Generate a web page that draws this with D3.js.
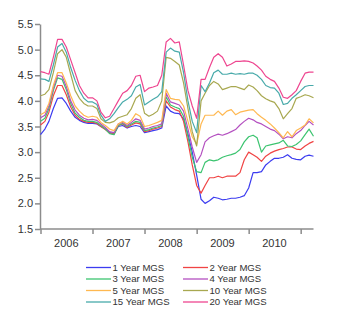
<!DOCTYPE html>
<html>
<head>
<meta charset="utf-8">
<script src="https://cdn.jsdelivr.net/npm/d3@7"></script>
<style>
  body { margin: 0; background: #fff; }
  svg { display: block; font-family: "Liberation Sans", Arial, sans-serif; }
  .axis path, .axis line { stroke: #8c8c8c; stroke-width: 1.5; }
  .axis text { fill: #333; font-size: 11px; }
  .legend text { fill: #333; font-size: 9.6px; }
</style>
</head>
<body>
<svg id="chart" width="344" height="330"></svg>
<script>
// Monthly yields, Jan 2006 .. Apr 2011 (64 months)
const startMonth = new Date(2006, 0, 1);
const endMonth = new Date(2011, 3, 1);

const seriesNames = ["1 Year MGS", "2 Year MGS", "3 Year MGS", "4 Year MGS",
                     "5 Year MGS", "10 Year MGS", "15 Year MGS", "20 Year MGS"];
const seriesColors = ["#3c3cf0", "#f04444", "#3cc470", "#b450c0",
                      "#ffb850", "#a8a850", "#48aaaa", "#ee4690"];

const y1 = [3.34, 3.45, 3.6, 3.85, 4.05, 4.06, 3.95, 3.8, 3.68, 3.62, 3.58, 3.56, 3.56, 3.55, 3.5, 3.45,
            3.38, 3.36, 3.5, 3.52, 3.47, 3.5, 3.52, 3.5, 3.38, 3.4, 3.42, 3.44, 3.47, 3.9, 3.8, 3.76,
            3.75, 3.65, 3.35, 3.0, 2.55, 2.08, 2.0, 2.05, 2.12, 2.1, 2.07, 2.08, 2.1, 2.1, 2.12, 2.15,
            2.3, 2.6, 2.6, 2.62, 2.75, 2.82, 2.88, 2.88, 2.9, 2.95, 2.88, 2.86, 2.85, 2.92, 2.94, 2.92];
const y2 = [3.53, 3.6, 3.78, 4.1, 4.3, 4.3, 4.12, 3.88, 3.72, 3.64, 3.6, 3.58, 3.58, 3.56, 3.5, 3.44,
            3.37, 3.35, 3.52, 3.55, 3.48, 3.53, 3.57, 3.55, 3.4, 3.42, 3.45, 3.47, 3.5, 4.0, 3.88, 3.83,
            3.8, 3.6, 3.2, 2.75, 2.35, 2.2, 2.35, 2.5, 2.5, 2.53, 2.5, 2.53, 2.53, 2.53, 2.6, 2.85,
            3.0, 2.95, 2.9, 2.82, 2.92, 2.98, 3.02, 3.05, 3.07, 3.1, 3.1, 3.06, 3.05, 3.12, 3.17, 3.21];
const y3 = [3.6, 3.66, 3.85, 4.2, 4.45, 4.42, 4.22, 3.95, 3.76, 3.68, 3.62, 3.6, 3.6, 3.58, 3.52, 3.45,
            3.36, 3.34, 3.52, 3.56, 3.5, 3.55, 3.6, 3.58, 3.42, 3.44, 3.47, 3.49, 3.52, 4.08, 3.92, 3.88,
            3.85, 3.7, 3.3, 2.9, 2.62, 2.6, 2.8, 2.85, 2.83, 2.85, 2.9, 2.93, 2.95, 2.98, 3.05, 3.2,
            3.3, 3.33, 3.28, 3.0, 3.12, 3.14, 3.16, 3.18, 3.23, 3.12, 3.11, 3.15, 3.22, 3.34, 3.45, 3.31];
const y4 = [3.67, 3.72, 3.9, 4.25, 4.5, 4.48, 4.28, 4.0, 3.82, 3.72, 3.66, 3.63, 3.64, 3.62, 3.55, 3.48,
            3.4, 3.38, 3.55, 3.58, 3.52, 3.58, 3.65, 3.62, 3.45, 3.47, 3.5, 3.52, 3.55, 4.15, 3.98, 3.95,
            3.92, 3.8, 3.45, 3.1, 2.8, 2.95, 3.2, 3.28, 3.32, 3.35, 3.33, 3.36, 3.4, 3.44, 3.53, 3.6,
            3.66, 3.63, 3.58, 3.55, 3.5, 3.45, 3.42, 3.35, 3.26, 3.3, 3.28, 3.36, 3.42, 3.52, 3.6, 3.53];
const y5 = [3.73, 3.78, 3.95, 4.3, 4.55, 4.55, 4.35, 4.1, 3.9, 3.8, 3.72, 3.68, 3.7, 3.68, 3.58, 3.52,
            3.45, 3.42, 3.55, 3.6, 3.55, 3.62, 3.75, 3.7, 3.5, 3.52, 3.55, 3.58, 3.62, 4.22, 4.05, 4.03,
            4.02, 3.9, 3.6, 3.3, 3.15, 3.55, 3.72, 3.72, 3.72, 3.8, 3.72, 3.8, 3.83, 3.73, 3.78, 3.8,
            3.82, 3.83, 3.75, 3.68, 3.62, 3.55, 3.47, 3.38, 3.28, 3.4, 3.3, 3.42, 3.47, 3.53, 3.65, 3.57];
const y10 = [4.1, 4.13, 4.22, 4.55, 4.92, 5.0, 4.85, 4.52, 4.2, 4.05, 3.95, 3.9, 3.9, 3.85, 3.65, 3.58,
             3.57, 3.6, 3.67, 3.7, 3.73, 3.85, 4.05, 4.12, 3.76, 3.7, 3.74, 3.8, 4.0, 4.85, 4.83, 4.77,
             4.7, 4.35, 3.85, 3.4, 3.12, 4.0, 4.15, 4.3, 4.38, 4.33, 4.22, 4.25, 4.28, 4.28, 4.25, 4.22,
             4.31, 4.27, 4.2, 4.1, 4.04, 4.0, 3.97, 3.85, 3.65, 3.75, 3.85, 4.05, 4.08, 4.12, 4.1, 4.06];
const y15 = [4.43, 4.42, 4.38, 4.7, 5.05, 5.12, 4.95, 4.65, 4.4, 4.2, 4.05, 3.98, 3.98, 3.93, 3.72, 3.6,
             3.65, 3.75, 3.87, 3.98, 4.03, 4.1, 4.27, 4.32, 3.92, 3.98, 4.03, 4.08, 4.18, 4.95, 5.03, 4.97,
             4.95, 4.55, 4.0, 3.6, 3.38, 4.3, 4.18, 4.35, 4.55, 4.6, 4.52, 4.52, 4.54, 4.52, 4.53, 4.52,
             4.54, 4.54, 4.5, 4.42, 4.3, 4.26, 4.25, 4.15, 3.93, 3.95, 4.05, 4.12, 4.2, 4.28, 4.3, 4.3];
const y20 = [4.57, 4.55, 4.52, 4.85, 5.2, 5.2, 5.05, 4.8, 4.55, 4.3, 4.15, 4.06, 4.06, 4.0, 3.78, 3.67,
             3.7, 3.85, 4.0, 4.15, 4.2, 4.3, 4.48, 4.5, 4.18, 4.25, 4.27, 4.3, 4.5, 5.15, 5.22, 5.13,
             5.15, 4.7, 4.2, 3.9, 3.66, 4.42, 4.42, 4.65, 4.85, 4.92, 4.85, 4.68, 4.72, 4.77, 4.77, 4.78,
             4.77, 4.74, 4.68, 4.6, 4.48, 4.42, 4.38, 4.25, 4.07, 4.05, 4.12, 4.2, 4.38, 4.54, 4.56, 4.56];

const seriesValues = [y1, y2, y3, y4, y5, y10, y15, y20];

const yTicks = [1.5, 2.0, 2.5, 3.0, 3.5, 4.0, 4.5, 5.0, 5.5];
const yearLabels = ["2006", "2007", "2008", "2009", "2010"];

// ---------- layout ----------
const svg = d3.select("#chart");
const months = d3.timeMonth.range(startMonth, d3.timeMonth.offset(endMonth, 1));

const x = d3.scaleTime().domain([startMonth, endMonth]).range([40.5, 313.5]);
const y = d3.scaleLinear().domain([1.5, 5.5]).range([229, 24]);

// ---------- axes ----------
svg.append("g")
  .attr("class", "axis")
  .attr("transform", "translate(40,0)")
  .call(d3.axisLeft(y).tickValues(yTicks).tickFormat(d3.format(".1f")).tickSize(5).tickSizeOuter(0).tickPadding(2));

const yearStarts = d3.range(2006, 2012).map(yr => new Date(yr, 0, 1));
svg.append("g")
  .attr("class", "axis")
  .attr("transform", "translate(0,229)")
  .call(d3.axisBottom(x).tickValues(yearStarts).tickFormat("").tickSize(5).tickSizeOuter(0))
  .call(g => g.select(".domain").attr("d", `M40,0H${x.range()[1]}`));

svg.append("g")
  .attr("class", "axis")
  .selectAll("text")
  .data(yearLabels)
  .join("text")
    .attr("x", d => x(new Date(+d, 6, 1)))
    .attr("y", 247)
    .attr("text-anchor", "middle")
    .text(d => d);

// ---------- lines ----------
const line = d3.line()
  .x((d, i) => x(months[i]))
  .y(d => y(d));

svg.append("g")
  .selectAll("path")
  .data(seriesValues)
  .join("path")
    .attr("fill", "none")
    .attr("stroke", (d, i) => seriesColors[i])
    .attr("stroke-width", 1.2)
    .attr("stroke-linejoin", "round")
    .attr("d", line);

// ---------- legend ----------
const legend = svg.append("g").attr("class", "legend");
const item = legend.selectAll("g")
  .data(seriesNames)
  .join("g")
    .attr("transform", (d, i) => `translate(${i % 2 ? 183 : 86},${267.5 + Math.floor(i / 2) * 11.5})`);

item.append("line")
  .attr("x1", 0).attr("x2", 25)
  .attr("stroke", (d, i) => seriesColors[i])
  .attr("stroke-width", 1.3);

item.append("text")
  .attr("x", 26.5)
  .attr("dy", "0.35em")
  .text(d => d);
</script>
</body>
</html>
